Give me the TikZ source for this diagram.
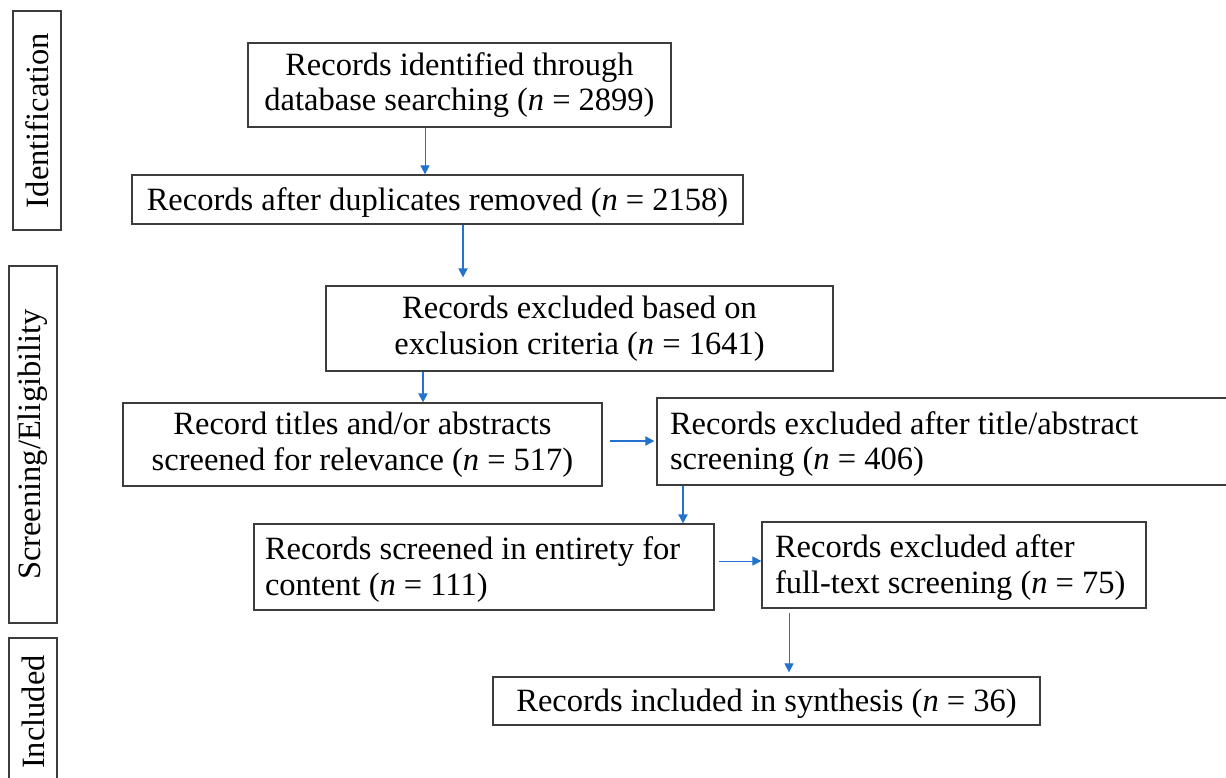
\documentclass[tikz,border=0pt]{standalone}
\usepackage{fontspec}
\setmainfont{Liberation Serif}
\usetikzlibrary{arrows.meta}
\definecolor{arrowblue}{RGB}{35,114,206}
\definecolor{boxgray}{RGB}{60,60,60}
\begin{document}
\begin{tikzpicture}[x=1pt,y=-1pt,
  box/.style={draw=boxgray,line width=1.2pt,inner sep=0pt,align=center,font=\fontsize{32.5}{35.5}\selectfont,execute at begin node=\rule{0pt}{28pt}},
  leftbox/.style={box,align=flush left,inner ysep=0pt},
  stage/.style={draw=boxgray,line width=1.2pt,inner sep=0pt,rotate=90,font=\fontsize{32.5}{36}\selectfont},
  arr/.style={draw=arrowblue,-{Triangle[length=9pt,width=9pt]}},
  thinarr/.style={arr,line width=1pt},
  thickarr/.style={arr,line width=2pt}
]
\useasboundingbox (0,0) rectangle (1226,778);
% stage labels
\node[stage,minimum width=219pt,minimum height=48pt] (s1) at (37,120.5) {Identification};
\node[stage,minimum width=357pt,minimum height=48pt] (s2) at (33,444.5) {Screening/Eligibility};
\node[stage,minimum width=148pt,minimum height=48pt] (s3) at (33,712) {Included};
% boxes
\node[box,minimum width=423pt,minimum height=84pt] (b1) at (459.5,85) {Records identified through\\database searching (\textit{n} = 2899)};
\node[box,minimum width=611pt,minimum height=49pt] (b2) at (437.5,199.5) {Records after duplicates removed (\textit{n} = 2158)};
\node[box,minimum width=507pt,minimum height=85pt] (b3) at (579.5,328.5) {Records excluded based on\\exclusion criteria (\textit{n} = 1641)};
\node[box,minimum width=479pt,minimum height=83pt] (b4) at (362.5,444.5) {Record titles and/or abstracts\\screened for relevance (\textit{n} = 517)};
\node[leftbox,inner xsep=13pt,text width=557pt,minimum height=87pt] (b5) at (948.5,441.5) {Records excluded after title/abstract\\screening (\textit{n} = 406)};
\node[leftbox,inner xsep=11pt,text width=438pt,minimum height=86pt] (b6) at (484,567) {Records screened in entirety for\\content (\textit{n} = 111)};
\node[leftbox,inner xsep=13pt,text width=358pt,minimum height=86pt] (b7) at (954,565) {Records excluded after\\full-text screening (\textit{n} = 75)};
\node[box,minimum width=547pt,minimum height=48pt] (b8) at (766.5,701) {Records included in synthesis (\textit{n} = 36)};
% arrows
\draw[thinarr] (b1.south -| 425,0) -- (b2.north -| 425,0);
\draw[thickarr,shorten >=8pt] (b2.south -| 463,0) -- (b3.north -| 463,0);
\draw[thickarr] (b3.south -| 423,0) -- (b4.north -| 423,0);
\draw[thickarr,shorten <=7pt,shorten >=2pt] (b4.east |- 0,441) -- (b5.west |- 0,441);
\draw[thickarr] (b5.south -| 683,0) -- (b6.north -| 683,0);
\draw[thinarr,shorten <=4pt] (b6.east |- 0,561) -- (b7.west |- 0,561);
\draw[thinarr,shorten <=4pt,shorten >=4pt] (b7.south -| 789,0) -- (b8.north -| 789,0);
\end{tikzpicture}
\end{document}
